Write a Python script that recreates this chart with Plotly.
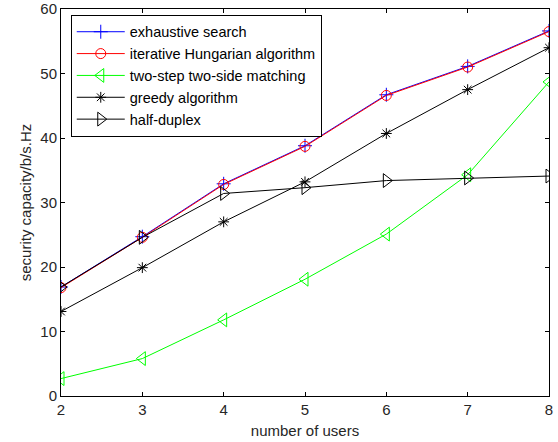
import plotly.graph_objects as go

# number of users
users = [2, 3, 4, 5, 6, 7, 8]

# security capacity (b/s/Hz) per scheme
exhaustive = [16.9, 24.7, 32.9, 38.8, 46.7, 51.1, 56.6]
hungarian = [16.8, 24.6, 32.8, 38.7, 46.6, 51.0, 56.5]
two_step = [2.7, 5.8, 11.8, 18.1, 25.1, 34.3, 48.7]
greedy = [13.1, 19.9, 27.0, 33.2, 40.7, 47.5, 54.0]
half_duplex = [16.9, 24.6, 31.4, 32.3, 33.4, 33.8, 34.1]

names = ["exhaustive search", "iterative Hungarian algorithm",
         "two-step two-side matching", "greedy algorithm", "half-duplex"]

series = [
    (exhaustive, "#0000ff", "cross-thin-open", 10),
    (hungarian, "#ff0000", "circle-open", 10),
    (two_step, "#00ff00", "triangle-left-open", 12),
    (greedy, "#000000", "asterisk-open", 9),
    (half_duplex, "#000000", "triangle-right-open", 12),
]

fig = go.Figure()
for name, (vals, color, sym, size) in zip(names, series):
    fig.add_trace(go.Scatter(
        x=users, y=vals, name=name, mode="lines+markers",
        line=dict(color=color, width=1),
        marker=dict(symbol=sym, size=size, color=color,
                    line=dict(color=color, width=1)),
    ))

axis_common = dict(
    showline=True, linecolor="black", linewidth=1, mirror="ticks",
    ticks="inside", ticklen=4, tickcolor="black", showgrid=False,
    zeroline=False, automargin=False,
    tickfont=dict(size=15, color="#262626"),
)

fig.update_layout(
    width=558, height=442,
    margin=dict(l=61, r=9, t=9, b=46),
    paper_bgcolor="white", plot_bgcolor="white",
    font=dict(family="Liberation Sans, Arial, sans-serif", color="#262626"),
    xaxis=dict(range=[2, 8], dtick=1, title=dict(text="number of users",
               font=dict(size=15), standoff=8), **axis_common),
    yaxis=dict(range=[0, 60], dtick=10, title=dict(text="security capacity/b/s.Hz",
               font=dict(size=15), standoff=5), **axis_common),
    legend=dict(x=0.02, y=0.985, xanchor="left", yanchor="top",
                bgcolor="white", bordercolor="black", borderwidth=1,
                font=dict(size=14.5, color="black"), tracegroupgap=0,
                itemwidth=48),
    showlegend=True,
)

fig.write_html("out.html")
